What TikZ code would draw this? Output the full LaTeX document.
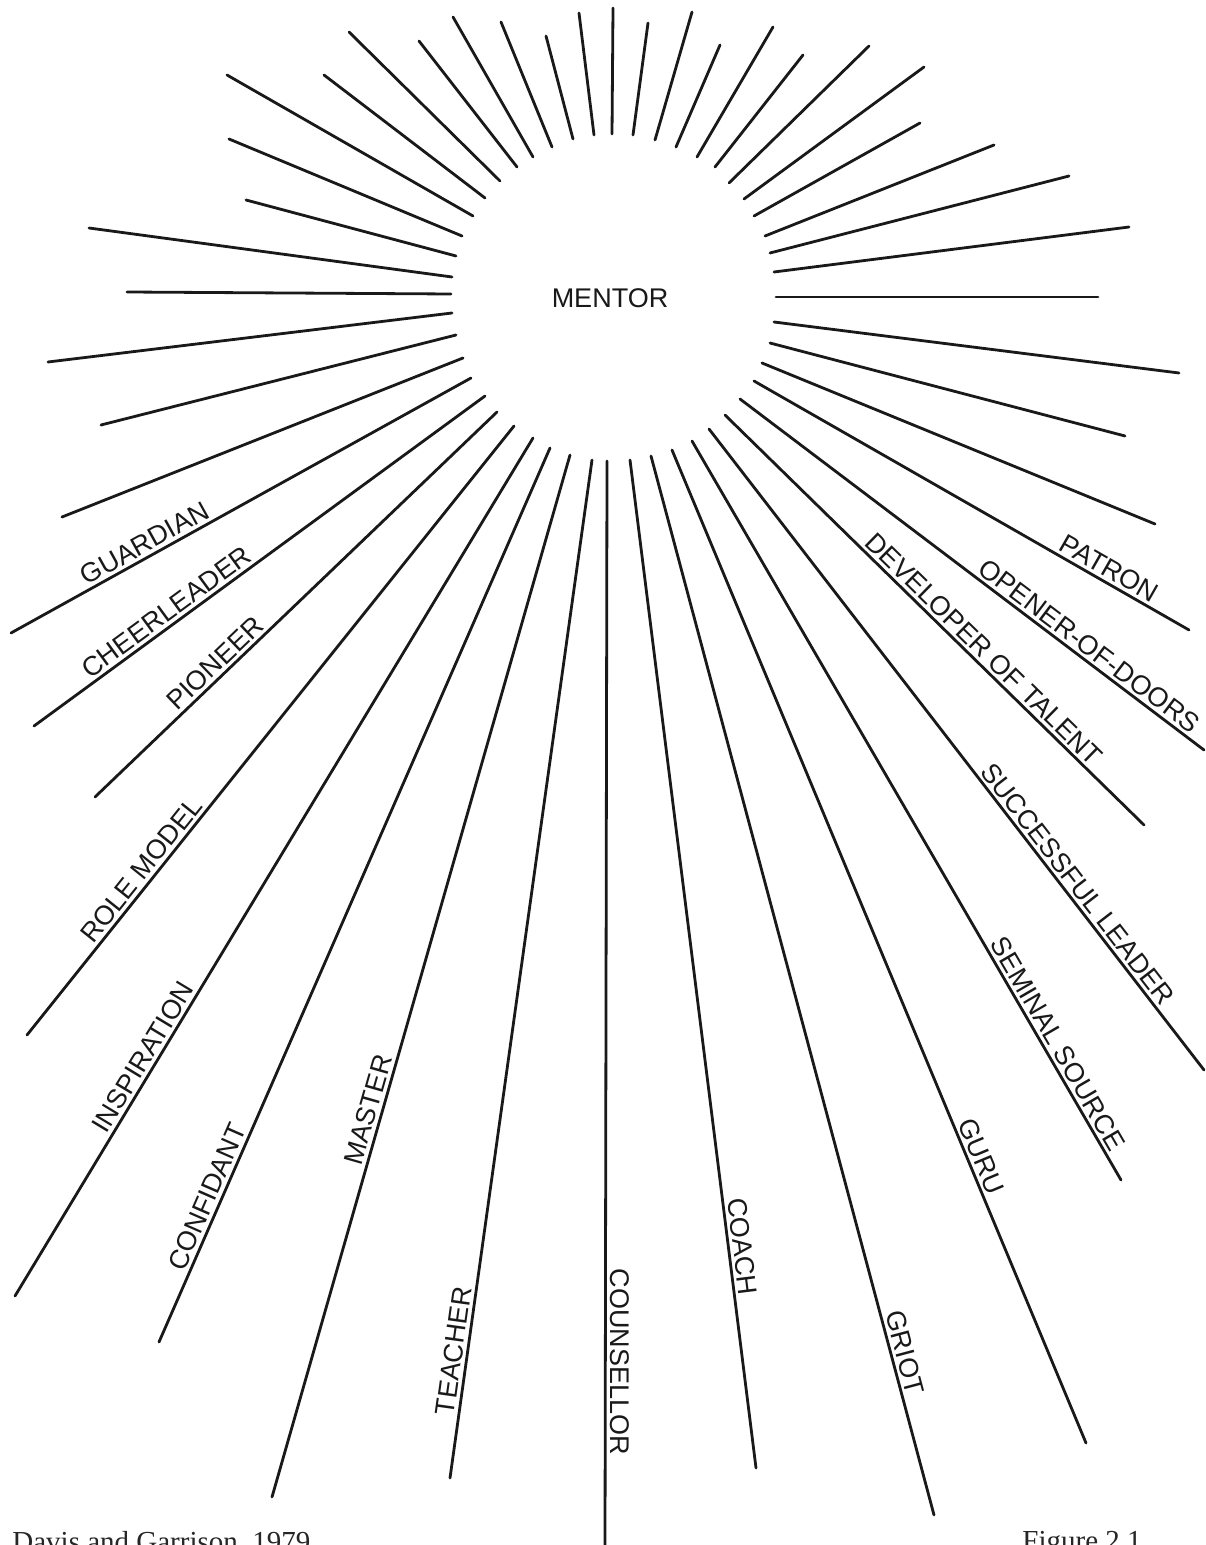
\documentclass[tikz,border=0pt]{standalone}
\usepackage{fontspec}
\setmainfont{Liberation Serif}
\newfontfamily\lblfont{Liberation Sans}
\usetikzlibrary{calc}
\begin{document}
\begin{tikzpicture}[x=0.5pt,y=-0.5pt,
  spoke/.style={line width=1.4pt, line cap=round, black!90},
  lbl/.style={font=\lblfont\fontsize{13.5}{16}\selectfont, inner sep=2pt, text=black!90},
  cite/.style={font=\fontsize{14.5}{17}\selectfont, anchor=north west, inner sep=0pt, text=black!85}]
\useasboundingbox (0,0) rectangle (1205,1545);
\fill[white] (0,0) rectangle (1205,1545);
\node[lbl] (mentor) at (610,298) {MENTOR};
\foreach \n/\ox/\oy/\ix/\iy in {
 1/613/8/612/134, 2/648/23/633/135, 3/692/12/655/140, 4/720/45/676/147,
 5/773/27/697/157, 6/803/55/715/167, 7/869/46/729/183, 8/924/67/744/199,
 9/920/123/754/216, 10/994/145/765/236, 11/1069/176/770/253, 12/1129/227/774/272,
 13/1098/297/776/297, 14/1179/373/774/322, 15/1125/436/770/343, 16/1155/524/762/363,
 17/1189/630/754/381, 18/1204/750/740/399, 19/1144/825/725/415, 20/1204/1070/709/429,
 21/1121/1180/692/441, 22/1086/1443/672/450, 23/934/1515/651/456, 24/756/1468/630/460,
 25/605/1545/607/461, 26/450/1478/592/460, 27/272/1497/570/455, 28/159/1342/550/448,
 29/15/1296/533/438, 30/27/1035/514/426, 31/95/797/497/412, 32/34/726/485/396,
 33/11/633/471/378, 34/62/517/463/358, 35/101/425/456/335, 36/48/362/452/313,
 37/127/292/451/294, 38/89/228/452/277, 39/246/200/456/256, 40/229/139/462/236,
 41/227/75/473/216, 42/324/75/485/198, 43/349/32/500/181, 44/419/41/517/167,
 45/453/17/533/157, 46/501/22/552/147, 47/546/36/573/139, 48/579/13/594/135}{
  \coordinate (o\n) at (\ox,\oy);
  \coordinate (i\n) at (\ix,\iy);
  \draw[spoke] (i\n) -- (o\n);
}
% labels along spokes
\path (i17) -- (o17) node[lbl, pos=0.80, sloped, above] (lpatron) {PATRON};
\path (i18) -- (o18) node[lbl, pos=0.735, sloped, above] (lopener) {OPENER-OF-DOORS};
\path (i19) -- (o19) node[lbl, pos=0.595, sloped, above] (ldevel) {DEVELOPER OF TALENT};
\path (i20) -- (o20) node[lbl, pos=0.723, sloped, above] (lsucc) {SUCCESSFUL LEADER};
\path (i21) -- (o21) node[lbl, pos=0.825, sloped, above] (lsem) {SEMINAL SOURCE};
\path (i22) -- (o22) node[lbl, pos=0.717, sloped, above] (lguru) {GURU};
\path (i23) -- (o23) node[lbl, pos=0.85, sloped, above] (lgriot) {GRIOT};
\path (i24) -- (o24) node[lbl, pos=0.782, sloped, above] (lcoach) {COACH};
\node[lbl, rotate=-90, anchor=south] (lcouns) at ($(i25)!0.831!(o25)$) {COUNSELLOR};
\path (i26) -- (o26) node[lbl, pos=0.877, sloped, above] (lteach) {TEACHER};
\path (i27) -- (o27) node[lbl, pos=0.632, sloped, above] (lmaster) {MASTER};
\path (i28) -- (o28) node[lbl, pos=0.844, sloped, above] (lconf) {CONFIDANT};
\path (i29) -- (o29) node[lbl, pos=0.730, sloped, above] (linsp) {INSPIRATION};
\path (i30) -- (o30) node[lbl, pos=0.743, sloped, above] (lrole) {ROLE MODEL};
\path (i31) -- (o31) node[lbl, pos=0.678, sloped, above] (lpion) {PIONEER};
\path (i32) -- (o32) node[lbl, pos=0.688, sloped, above] (lcheer) {CHEERLEADER};
\path (i33) -- (o33) node[lbl, pos=0.695, sloped, above] (lguard) {GUARDIAN};
% source lines, cut by the lower edge as in the reference
\node[cite] (src) at (12,1531) {Davis and Garrison, 1979};
\node[cite] (fig) at (1022,1531) {Figure 2.1};
\end{tikzpicture}
\end{document}
